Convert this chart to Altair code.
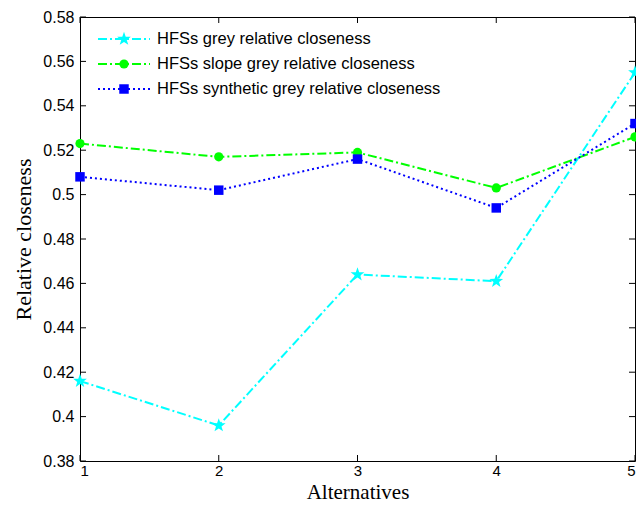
import altair as alt
import pandas as pd

alternatives = [1, 2, 3, 4, 5]
grey = [0.416, 0.396, 0.464, 0.461, 0.555]
slope = [0.523, 0.517, 0.519, 0.503, 0.526]
synthetic = [0.508, 0.502, 0.516, 0.494, 0.532]

series_names = [
    "HFSs grey relative closeness",
    "HFSs slope grey relative closeness",
    "HFSs synthetic grey relative closeness",
]
series_values = [grey, slope, synthetic]
colors = ["#00FFFF", "#00FF00", "#0000FF"]
dashes = [[9, 3, 2, 3], [9, 3, 2, 3], [2, 3]]
STAR = ("M0,-1L0.235,-0.324L0.951,-0.309L0.380,0.124L0.588,0.809L0,0.4"
        "L-0.588,0.809L-0.380,0.124L-0.951,-0.309L-0.235,-0.324Z")
shapes = [STAR, "circle", "square"]
sizes = [210, 85, 90]

y_ticks = [0.38, 0.40, 0.42, 0.44, 0.46, 0.48, 0.50, 0.52, 0.54, 0.56, 0.58]

W, H = 555, 444
TL = 6

xs = alt.Scale(domain=[1, 5], nice=False, zero=False)
ys = alt.Scale(domain=[0.38, 0.58], nice=False, zero=False)

x_axis = alt.Axis(values=alternatives, format="d", grid=False, domain=False, ticks=False,
                  labelFont="Liberation Sans", labelFontSize=15, labelColor="black",
                  labelPadding=2, title="Alternatives", titleFont="Liberation Serif",
                  titleFontSize=21, titleFontWeight="normal", titleColor="black",
                  titleX=W / 2, titleY=37, titleBaseline="alphabetic", titleAlign="center")
y_axis = alt.Axis(values=y_ticks, format=".2~f", grid=False, domain=False, ticks=False,
                  labelFont="Liberation Sans", labelFontSize=16, labelColor="black",
                  labelPadding=6, title="Relative closeness", titleFont="Liberation Serif",
                  titleFontSize=22, titleFontWeight="normal", titleColor="black",
                  titleX=-57, titleY=H / 2, titleBaseline="middle", titleAlign="center")

layers = []
first = True
for name, vals, col, dash, shp, sz in zip(series_names, series_values, colors, dashes, shapes, sizes):
    df = pd.DataFrame({"x": alternatives, "y": vals})
    if first:
        xenc = alt.X("x:Q", scale=xs, axis=x_axis)
        yenc = alt.Y("y:Q", scale=ys, axis=y_axis)
        first = False
    else:
        xenc = alt.X("x:Q", scale=xs)
        yenc = alt.Y("y:Q", scale=ys)
    line = alt.Chart(df).mark_line(color=col, strokeWidth=2, strokeDash=dash).encode(x=xenc, y=yenc)
    pts = alt.Chart(df).mark_point(shape=shp, size=sz, filled=True, color=col, opacity=1).encode(
        x=alt.X("x:Q", scale=xs), y=alt.Y("y:Q", scale=ys))
    layers += [line, pts]

# inward ticks (MATLAB style) on all four sides
ydf = pd.DataFrame({"v": y_ticks})
xdf = pd.DataFrame({"v": alternatives})
tick_style = dict(color="black", strokeWidth=1)
layers.append(alt.Chart(ydf).mark_rule(**tick_style).encode(
    y=alt.Y("v:Q", scale=ys), x=alt.value(0), x2=alt.value(TL)))
layers.append(alt.Chart(ydf).mark_rule(**tick_style).encode(
    y=alt.Y("v:Q", scale=ys), x=alt.value(W - TL), x2=alt.value(W)))
layers.append(alt.Chart(xdf).mark_rule(**tick_style).encode(
    x=alt.X("v:Q", scale=xs), y=alt.value(H - TL), y2=alt.value(H)))
layers.append(alt.Chart(xdf).mark_rule(**tick_style).encode(
    x=alt.X("v:Q", scale=xs), y=alt.value(0), y2=alt.value(TL)))

# legend
for i, (name, col, dash, shp, sz) in enumerate(zip(series_names, colors, dashes, shapes, sizes)):
    yy = 22 + 25 * i
    ldf = pd.DataFrame({"label": [name]})
    layers.append(alt.Chart(ldf).mark_rule(color=col, strokeWidth=2, strokeDash=dash).encode(
        x=alt.value(18), x2=alt.value(70), y=alt.value(yy)))
    layers.append(alt.Chart(ldf).mark_point(shape=shp, size=sz, filled=True, color=col, opacity=1).encode(
        x=alt.value(44), y=alt.value(yy)))
    layers.append(alt.Chart(ldf).mark_text(align="left", baseline="middle", font="Liberation Sans",
                                           fontSize=16.5, color="black").encode(
        x=alt.value(77), y=alt.value(yy), text="label:N"))

chart = alt.layer(*layers).properties(
    width=W, height=H,
    autosize=alt.AutoSizeParams(type="none"),
    padding={"left": 72, "top": 9, "right": 1, "bottom": 42},
    background="white",
).configure_view(stroke="black", strokeWidth=1)

chart.save("out.html", embed_options={"renderer": "svg", "actions": False})
